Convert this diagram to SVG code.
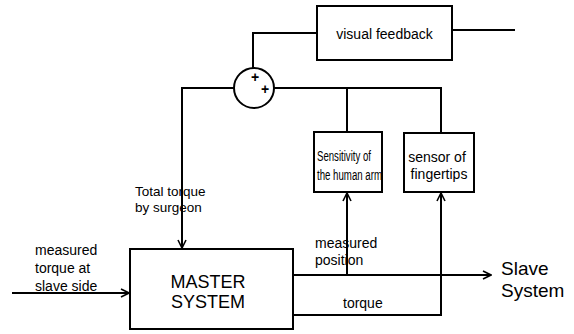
<svg xmlns="http://www.w3.org/2000/svg" width="574" height="334" viewBox="0 0 574 334">
<defs>
<marker id="ah" markerWidth="10" markerHeight="10" refX="9" refY="5" orient="auto" markerUnits="userSpaceOnUse">
<path d="M1,1 L9,5 L1,9" fill="none" stroke="#000" stroke-width="1.6"/>
</marker>
<style>
.box{fill:#fff;stroke:#000;stroke-width:2}
.ln{fill:none;stroke:#000;stroke-width:2}
.t{font-family:"Liberation Sans",Arial,sans-serif;fill:#000}
</style>
</defs>
<rect width="574" height="334" fill="#fff"/>
<g id="connectors">
<polyline class="ln" points="452,30 515,30"/>
<polyline class="ln" points="317,33 253,33 253,69"/>
<polyline class="ln" points="234,88 182,88 182,248" marker-end="url(#ah)"/>
<polyline class="ln" points="274,88 441,88 441,133"/>
<line class="ln" x1="347" y1="88" x2="347" y2="132"/>
<line class="ln" x1="12" y1="293" x2="129" y2="293" marker-end="url(#ah)"/>
<line class="ln" x1="293" y1="275" x2="491" y2="275" marker-end="url(#ah)"/>
<line class="ln" x1="347" y1="275" x2="347" y2="193" marker-end="url(#ah)"/>
<polyline class="ln" points="293,315 441,315 441,193" marker-end="url(#ah)"/>
</g>
<g id="visual-feedback">
<rect class="box" x="317" y="6" width="135" height="54"/>
<text class="t" x="384.5" y="39" font-size="14" text-anchor="middle">visual feedback</text>
</g>
<g id="sum">
<circle class="box" cx="254" cy="88" r="20"/>
<text class="t" x="255" y="82" font-size="14" font-weight="bold" text-anchor="middle">+</text>
<text class="t" x="265" y="94" font-size="14" font-weight="bold" text-anchor="middle">+</text>
</g>
<g id="sensitivity">
<rect class="box" x="314" y="132" width="68" height="60"/>
<text class="t" x="317" y="161" font-size="14" textLength="54" lengthAdjust="spacingAndGlyphs">Sensitivity of</text>
<text class="t" x="317" y="180" font-size="14" textLength="65" lengthAdjust="spacingAndGlyphs">the human arm</text>
</g>
<g id="sensor">
<rect class="box" x="404" y="133" width="70" height="59"/>
<text class="t" x="437" y="162" font-size="14" text-anchor="middle">sensor of</text>
<text class="t" x="439" y="179" font-size="14" text-anchor="middle">fingertips</text>
</g>
<g id="master">
<rect class="box" x="130" y="249" width="163" height="80"/>
<text class="t" x="208" y="288" font-size="18" text-anchor="middle">MASTER</text>
<text class="t" x="208" y="308" font-size="18" text-anchor="middle">SYSTEM</text>
</g>
<g id="labels">
<text class="t" x="135" y="196" font-size="13.5">Total torque</text>
<text class="t" x="135" y="212" font-size="13.5">by surgeon</text>
<text class="t" x="35" y="255" font-size="14">measured</text>
<text class="t" x="35" y="273" font-size="14">torque at</text>
<text class="t" x="35" y="291" font-size="14">slave side</text>
<text class="t" x="315" y="248" font-size="14">measured</text>
<text class="t" x="315" y="265" font-size="14">position</text>
<text class="t" x="343" y="308" font-size="14">torque</text>
<text class="t" x="501" y="275" font-size="19">Slave</text>
<text class="t" x="501" y="297" font-size="19">System</text>
</g>
</svg>
